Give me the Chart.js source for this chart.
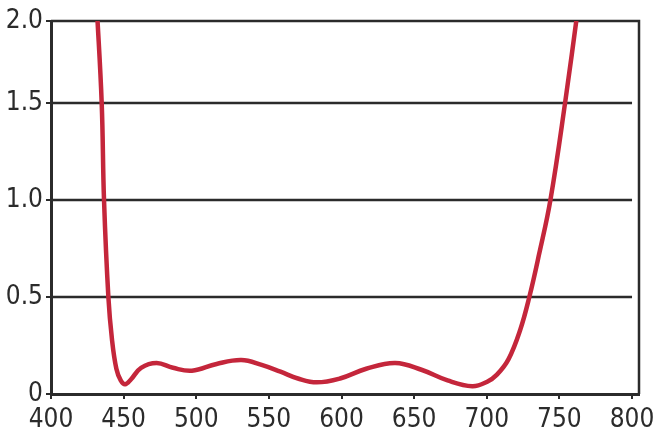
<!DOCTYPE html>
<html>
<head>
<meta charset="utf-8">
<script src="https://cdn.jsdelivr.net/npm/chart.js@4"></script>
<style>
  html, body { margin: 0; padding: 0; background: #fff; }
  #wrap { width: 653px; height: 437px; }
</style>
</head>
<body>
<div id="wrap"><canvas id="chart"></canvas></div>
<script>
// wavelength (nm) and value
var wavelengths = [431.5, 434.9, 436.5, 439.5, 442, 445, 448, 451, 455, 462, 472.7, 484, 497, 514, 531, 545, 558, 570, 583, 599, 617, 637, 655, 673, 690, 700, 707, 715, 723, 729.3, 736, 743.8, 753.9, 763];
var values = [2.0, 1.5, 1.0, 0.5, 0.28, 0.13, 0.07, 0.05, 0.075, 0.135, 0.16, 0.135, 0.12, 0.155, 0.175, 0.15, 0.115, 0.08, 0.06, 0.08, 0.13, 0.16, 0.125, 0.07, 0.04, 0.062, 0.1, 0.18, 0.33, 0.5, 0.72, 1.0, 1.5, 2.0];

var xTicks = [400, 450, 500, 550, 600, 650, 700, 750, 800];
var yTicks = [0, 0.5, 1.0, 1.5, 1.923];
var yTickLabels = ['0', '0.5', '1.0', '1.5', '2.0'];
var gridValues = [0.5, 1.0, 1.5];

var FONT = '"Liberation Sans Narrow", "DejaVu Sans Condensed", sans-serif';
var INK = '#2b2b2b';

// grid lines stop at 800, frame goes on to the chart edge
var framePlugin = {
    id: 'frame',
    beforeDatasetsDraw: function(chart) {
        var ctx = chart.ctx;
        var area = chart.chartArea;
        var x = chart.scales.x;
        var y = chart.scales.y;
        ctx.save();
        ctx.strokeStyle = INK;
        ctx.lineWidth = 2.5;
        gridValues.forEach(function(v) {
            var py = y.getPixelForValue(v);
            ctx.beginPath();
            ctx.moveTo(area.left, py);
            ctx.lineTo(x.getPixelForValue(800), py);
            ctx.stroke();
        });
        ctx.beginPath();
        ctx.moveTo(area.left, area.top);
        ctx.lineTo(area.right, area.top);
        ctx.lineTo(area.right, area.bottom);
        ctx.stroke();
        ctx.restore();
    }
};

var points = wavelengths.map(function(w, i) { return {x: w, y: values[i]}; });

new Chart(document.getElementById('chart'), {
    type: 'line',
    data: {
        datasets: [{
            data: points,
            borderColor: '#c4263b',
            borderWidth: 4.5,
            pointRadius: 0,
            fill: false,
            tension: 0.4
        }]
    },
    options: {
        responsive: true,
        maintainAspectRatio: false,
        animation: false,
        layout: { padding: { top: 21, right: 14, left: 0, bottom: 0 } },
        plugins: { legend: { display: false }, tooltip: { enabled: false } },
        scales: {
            x: {
                type: 'linear',
                min: 400,
                max: 804.8,
                afterBuildTicks: function(scale) {
                    scale.ticks = xTicks.map(function(v) { return {value: v}; });
                },
                afterFit: function(scale) {
                    scale.height = 43;
                    scale.paddingLeft = 0;
                    scale.paddingRight = 0;
                },
                border: { display: true, color: INK, width: 3 },
                grid: { drawOnChartArea: false, color: INK, lineWidth: 2, tickLength: 5 },
                ticks: {
                    color: INK,
                    padding: 6,
                    maxRotation: 0,
                    font: { family: FONT, size: 26 }
                }
            },
            y: {
                type: 'linear',
                min: 0,
                max: 1.923,
                afterBuildTicks: function(scale) {
                    scale.ticks = yTicks.map(function(v) { return {value: v}; });
                },
                afterFit: function(scale) {
                    scale.width = 51;
                    scale.paddingTop = 0;
                    scale.paddingBottom = 0;
                },
                border: { display: true, color: INK, width: 3 },
                grid: { drawOnChartArea: false, color: INK, lineWidth: 2, tickLength: 5 },
                ticks: {
                    color: INK,
                    padding: 3,
                    font: { family: FONT, size: 26 },
                    callback: function(value, index) { return yTickLabels[index]; }
                }
            }
        }
    },
    plugins: [framePlugin]
});
</script>
</body>
</html>
